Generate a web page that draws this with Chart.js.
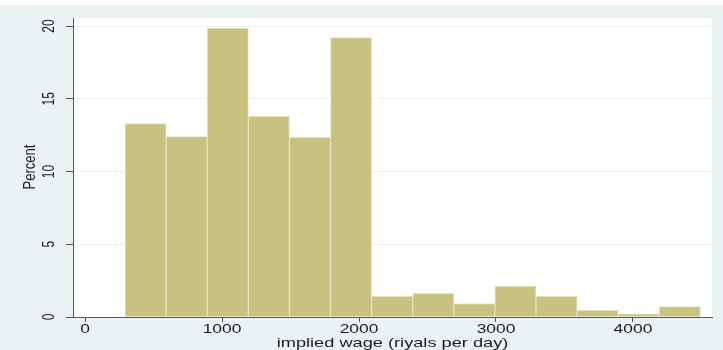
<!DOCTYPE html>
<html>
<head>
<meta charset="utf-8">
<script src="https://cdn.jsdelivr.net/npm/chart.js@4"></script>
<style>
    html, body { margin: 0; padding: 0; background: #fff; }
    #wrap { position: absolute; left: 0; top: 5px; width: 723px; height: 345px; background: #eaf2f3; }
</style>
</head>
<body>
<div id="wrap"><canvas id="histChart" width="723" height="345"></canvas></div>
<script>
// histogram bins (left edges + last right edge) and bar heights in percent
const binEdges = [292, 592, 892, 1192, 1492, 1792, 2092, 2392, 2692, 2992, 3292, 3592, 3892, 4192, 4492];
const percents = [13.3, 12.4, 19.85, 13.8, 12.35, 19.2, 1.42, 1.63, 0.93, 2.13, 1.42, 0.46, 0.21, 0.72];
const xTicks = [0, 1000, 2000, 3000, 4000];
const yTicks = [0, 5, 10, 15, 20];
const xTitle = 'implied wage (riyals per day)';
const yTitle = 'Percent';

const points = percents.map((p, i) => ({ x: (binEdges[i] + binEdges[i + 1]) / 2, y: p }));

const FONT = '"Liberation Sans", Arial, sans-serif';
const TXT = '#1c1c1c';

// text in the source is wider than normal, so stretch it sideways
function wideText(ctx, txt, x, y, sx, rotate) {
    ctx.save();
    ctx.translate(x, y);
    ctx.scale(sx, 1);
    if (rotate) ctx.rotate(-Math.PI / 2);
    ctx.fillText(txt, 0, 0);
    ctx.restore();
}

const plotBg = {
    id: 'plotBg',
    beforeDraw(chart) {
        const { ctx, chartArea: a } = chart;
        ctx.save();
        ctx.fillStyle = '#ffffff';
        ctx.fillRect(a.left, a.top, a.right - a.left, a.bottom - a.top);
        ctx.restore();
    }
};

const labels = {
    id: 'labels',
    afterDraw(chart) {
        const { ctx, scales } = chart;
        ctx.save();
        ctx.fillStyle = TXT;
        ctx.textAlign = 'center';
        ctx.textBaseline = 'middle';
        ctx.font = '12px ' + FONT;
        xTicks.forEach(v => wideText(ctx, String(v), scales.x.getPixelForValue(v), 325, 1.45, false));
        yTicks.forEach(v => wideText(ctx, String(v), 50, scales.y.getPixelForValue(v), 1.3, true));
        ctx.font = '13px ' + FONT;
        wideText(ctx, xTitle, (chart.chartArea.left + chart.chartArea.right) / 2, 338, 1.4, false);
        wideText(ctx, yTitle, 30, 162, 1.3, true);
        ctx.restore();
    }
};

new Chart(document.getElementById('histChart'), {
    type: 'bar',
    data: {
        datasets: [{
            data: points,
            backgroundColor: '#c9c180',
            borderColor: '#e6e2bd',
            borderWidth: 1,
            barPercentage: 1,
            categoryPercentage: 1
        }]
    },
    options: {
        responsive: false,
        animation: false,
        plugins: { legend: { display: false }, tooltip: { enabled: false } },
        layout: { padding: { top: 13, right: 11, left: 0, bottom: 0 } },
        scales: {
            x: {
                type: 'linear',
                offset: false,
                min: -88,
                max: 4577,
                afterBuildTicks: s => { s.ticks = xTicks.map(v => ({ value: v })); },
                afterFit: s => { s.height = 33; },
                ticks: { display: false },
                grid: { offset: false, drawOnChartArea: false, tickColor: '#555', tickLength: 5 },
                border: { color: '#555', width: 1 }
            },
            y: {
                min: 0,
                max: 20.55,
                afterBuildTicks: s => { s.ticks = yTicks.map(v => ({ value: v })); },
                afterFit: s => { s.width = 73; },
                ticks: { display: false },
                grid: { color: '#eaf2f3', tickColor: '#555', tickLength: 7 },
                border: { color: '#555', width: 1 }
            }
        }
    },
    plugins: [plotBg, labels]
});
</script>
</body>
</html>
